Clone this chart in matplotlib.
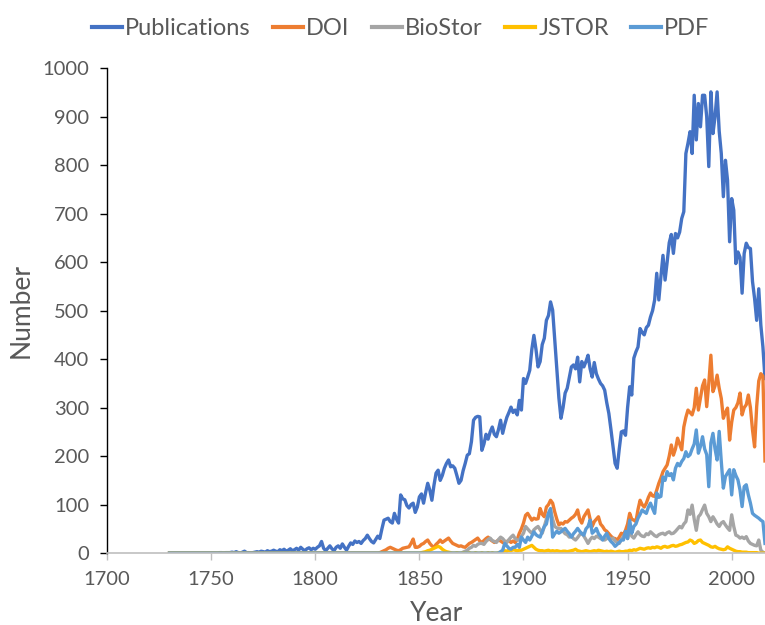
import matplotlib
matplotlib.use("Agg")
import matplotlib.pyplot as plt
import numpy as np

years = list(range(1730, 2017))

publications = (
    [0] * 24 + [1, 1, 0, 1, 1, 1]  # 1730-1759
    + [2, 1, 3, 1, 0, 2, 4, 1, 1, 0,  # 1760s
       1, 2, 3, 2, 4, 3, 2, 5, 3, 4,  # 1770s
       6, 4, 3, 7, 5, 8, 4, 6, 9, 5,  # 1780s
       7, 10, 6, 12, 8, 5, 9, 11, 7, 10]  # 1790s
    + [8, 12, 15, 24, 10, 5, 10, 15, 9, 5,  # 1800s
       12, 15, 10, 19, 12, 6, 14, 21, 18, 25,  # 1810s
       22, 24, 20, 26, 30, 37, 30, 24, 21, 28,  # 1820s
       35, 30, 50, 68, 70, 72, 65, 62, 82, 70,  # 1830s
       62, 120, 112, 110, 98, 93, 100, 103, 84, 95,  # 1840s
       116, 122, 103, 125, 144, 130, 109, 140, 165, 171,  # 1850s
       150, 160, 175, 185, 192, 178, 180, 175, 160, 144,  # 1860s
       150, 170, 185, 202, 205, 230, 274, 280, 282, 281,  # 1870s
       212, 225, 245, 235, 250, 260, 245, 240, 255, 274,  # 1880s
       247, 265, 280, 290, 301, 290, 295, 285, 315, 295,  # 1890s
       360, 350, 363, 377, 420, 449, 420, 384, 395, 430,  # 1900s
       443, 480, 490, 518, 501, 440, 380, 320, 278, 300,  # 1910s
       330, 340, 362, 384, 388, 380, 404, 353, 395, 384,  # 1920s
       395, 408, 380, 363, 393, 370, 359, 350, 345, 336,  # 1930s
       310, 288, 255, 220, 185, 175, 215, 250, 252, 243,  # 1940s
       300, 343, 326, 402, 415, 425, 463, 455, 450, 465,  # 1950s
       470, 487, 500, 522, 577, 522, 570, 614, 563, 600,  # 1960s
       640, 657, 618, 659, 650, 662, 690, 704, 824, 845,  # 1970s
       869, 824, 944, 852, 927, 879, 944, 944, 900, 797,  # 1980s
       951, 865, 900, 951, 870, 824, 735, 810, 769, 642,  # 1990s
       731, 707, 597, 621, 610, 536, 618, 639, 630, 628,  # 2000s
       560, 525, 480, 545, 470, 425, 360]  # 2010-2016
)

doi = (
    [0] * 100  # 1730-1829
    + [0, 1, 3, 5, 7, 10, 12, 10, 8, 6,  # 1830s
       5, 7, 10, 11, 12, 13, 20, 29, 12, 12,  # 1840s
       14, 18, 20, 24, 27, 20, 15, 12, 18, 22,  # 1850s
       27, 22, 25, 28, 31, 25, 20, 18, 16, 14,  # 1860s
       15, 13, 12, 16, 20, 22, 25, 28, 31, 25,  # 1870s
       22, 26, 30, 33, 28, 25, 22, 24, 27, 25,  # 1880s
       22, 20, 24, 26, 22, 25, 22, 28, 41, 50,  # 1890s
       62, 78, 82, 75, 68, 72, 70, 71, 92, 80,  # 1900s
       75, 95, 100, 109, 103, 85, 70, 58, 62, 60,  # 1910s
       65, 64, 68, 72, 75, 80, 89, 70, 62, 75,  # 1920s
       82, 89, 70, 55, 65, 70, 75, 60, 55, 48,  # 1930s
       45, 40, 35, 31, 30, 27, 33, 41, 38, 47,  # 1940s
       60, 82, 70, 68, 65, 90, 109, 100, 95, 103,  # 1950s
       115, 124, 118, 117, 130, 144, 155, 168, 175, 182,  # 1960s
       200, 223, 202, 215, 237, 225, 213, 260, 280, 295,  # 1970s
       290, 285, 300, 340, 295, 320, 345, 357, 302, 350,  # 1980s
       408, 333, 345, 367, 340, 319, 278, 290, 299, 233,  # 1990s
       270, 295, 300, 310, 330, 285, 300, 306, 326, 300,  # 2000s
       254, 219, 302, 355, 370, 365, 190]  # 2010-2016
)

biostor = (
    [0] * 140  # 1730-1869
    + [0, 2, 4, 6, 10, 12, 16, 14, 18, 20,  # 1870s
       20, 18, 24, 28, 31, 26, 24, 22, 28, 33,  # 1880s
       30, 25, 22, 28, 33, 37, 30, 27, 27, 35,  # 1890s
       41, 55, 50, 45, 41, 48, 52, 55, 48, 41,  # 1900s
       55, 70, 82, 89, 70, 55, 52, 50, 51, 45,  # 1910s
       40, 38, 33, 35, 30, 27, 32, 38, 41, 35,  # 1920s
       28, 20, 28, 33, 30, 35, 33, 30, 28, 27,  # 1930s
       30, 33, 28, 31, 25, 22, 20, 28, 35, 41,  # 1940s
       30, 47, 35, 31, 38, 44, 38, 35, 34, 40,  # 1950s
       38, 44, 40, 36, 34, 38, 40, 41, 38, 42,  # 1960s
       44, 40, 41, 45, 50, 55, 52, 60, 65, 89,  # 1970s
       80, 99, 70, 47, 75, 80, 90, 99, 82, 75,  # 1980s
       65, 75, 68, 60, 55, 62, 65, 58, 52, 47,  # 1990s
       79, 55, 37, 35, 31, 33, 30, 34, 25, 20,  # 2000s
       18, 16, 15, 27, 6, 2, 0]  # 2010-2016
)

jstor = (
    [0] * 120  # 1730-1849
    + [0, 1, 2, 3, 5, 6, 8, 10, 12, 14,  # 1850s
       12, 8, 5, 3, 2, 1, 0, 0, 1, 0,  # 1860s
       0, 1, 0, 0, 1, 0, 0, 1, 0, 0,  # 1870s
       1, 0, 0, 1, 0, 1, 0, 0, 1, 2,  # 1880s
       3, 5, 4, 6, 5, 7, 6, 5, 6, 6,  # 1890s
       8, 10, 12, 14, 16, 12, 8, 6, 5, 5,  # 1900s
       4, 5, 6, 4, 5, 4, 5, 4, 3, 4,  # 1910s
       4, 3, 4, 5, 6, 8, 5, 4, 3, 4,  # 1920s
       5, 4, 3, 4, 5, 4, 6, 5, 4, 3,  # 1930s
       4, 3, 4, 3, 2, 3, 4, 3, 3, 4,  # 1940s
       4, 6, 5, 7, 6, 8, 10, 9, 8, 10,  # 1950s
       11, 10, 12, 11, 13, 12, 10, 13, 14, 12,  # 1960s
       13, 15, 16, 14, 15, 17, 18, 20, 22, 23,  # 1970s
       27, 25, 20, 22, 26, 27, 22, 20, 18, 16,  # 1980s
       13, 12, 14, 11, 9, 8, 7, 8, 13, 10,  # 1990s
       8, 6, 4, 3, 3, 2, 2, 2, 1, 1,  # 2000s
       1, 1, 1, 0, 0, 0, 0]  # 2010-2016
)

pdf = (
    [0] * 159  # 1730-1888
    + [3,  # 1889
       6, 20, 15, 10, 8, 12, 12, 18, 12, 33,  # 1890s
       27, 22, 33, 27, 35, 44, 38, 35, 33, 45,  # 1900s
       55, 60, 82, 92, 33, 40, 45, 41, 44, 48,  # 1910s
       51, 45, 40, 33, 40, 45, 51, 45, 40, 37,  # 1920s
       50, 55, 68, 41, 45, 51, 40, 35, 27, 35,  # 1930s
       41, 30, 24, 20, 14, 18, 22, 27, 27, 45,  # 1940s
       30, 68, 41, 55, 60, 72, 80, 89, 85, 82,  # 1950s
       95, 103, 92, 82, 124, 115, 117, 157, 150, 168,  # 1960s
       160, 164, 151, 175, 185, 180, 189, 195, 209, 199,  # 1970s
       203, 215, 225, 254, 206, 220, 240, 215, 203, 137,  # 1980s
       227, 247, 215, 192, 251, 189, 134, 158, 165, 172,  # 1990s
       120, 172, 160, 151, 130, 96, 137, 141, 120, 103,  # 2000s
       82, 78, 75, 72, 68, 65, 20]  # 2010-2016
)

series_names = ["Publications", "DOI", "BioStor", "JSTOR", "PDF"]
series_values = [publications, doi, biostor, jstor, pdf]
colors = ["#4472C4", "#ED7D31", "#A5A5A5", "#FFC000", "#5B9BD5"]

x_ticks = [1700, 1750, 1800, 1850, 1900, 1950, 2000]
y_ticks = list(range(0, 1001, 100))

plt.rcParams['font.family'] = ['Lato', 'DejaVu Sans']
text_color = "#595959"

fig = plt.figure(figsize=(7.65, 6.25), dpi=100)
ax = fig.add_axes([0.14, 0.115, 0.86, 0.776])

for name, vals, c in zip(series_names, series_values, colors):
    ax.plot(years, vals, color=c, lw=2.4, label=name, solid_joinstyle='round')

ax.set_xlim(1700, 2016)
ax.set_ylim(0, 1000)
ax.set_xticks(x_ticks)
ax.set_yticks(y_ticks)
ax.tick_params(axis='x', colors="#BFBFBF", labelcolor=text_color, labelsize=14.5,
               length=5, width=1, direction='out', pad=8)
ax.tick_params(axis='y', colors="black", labelcolor=text_color, labelsize=14.5,
               length=5, width=1, direction='out', pad=8)

for s in ['top', 'right']:
    ax.spines[s].set_visible(False)
ax.spines['bottom'].set_color("#BFBFBF")
ax.spines['bottom'].set_linewidth(1.2)
ax.spines['left'].set_color("black")
ax.spines['left'].set_linewidth(1.0)

ax.set_xlabel("Year", fontsize=19, color=text_color, labelpad=9)
ax.set_ylabel("Number", fontsize=19, color=text_color, labelpad=6)

leg = fig.legend(loc='upper center', bbox_to_anchor=(0.524, 1.005), ncol=5,
                 frameon=False, fontsize=17, handlelength=1.25, handletextpad=0.15,
                 columnspacing=0.95, labelcolor=text_color)
for line in leg.get_lines():
    line.set_linewidth(3)

fig.savefig("out.png", dpi=100)
